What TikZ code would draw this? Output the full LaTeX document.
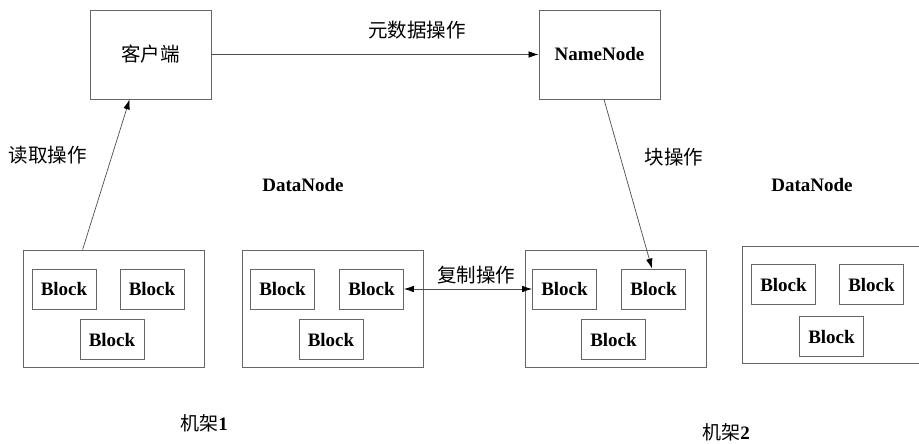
\documentclass[tikz,border=0pt]{standalone}
\usepackage{fontspec}
\setmainfont{Liberation Serif}
\newfontfamily\cjk{Noto Sans CJK SC}
\usetikzlibrary{arrows.meta,calc}
\begin{document}
\begin{tikzpicture}[x=1pt,y=-1pt,
  lat/.style={font=\fontsize{19}{22}\selectfont\bfseries},
  zh/.style={font=\fontsize{19.5}{22}\selectfont\cjk},
  mainbox/.style={draw=black!60,line width=0.8pt,minimum width=121pt,minimum height=89pt,inner sep=0pt},
  rackbox/.style={draw=black!60,line width=0.8pt,minimum width=181pt,minimum height=117pt,inner sep=0pt},
  blockbox/.style={draw=black!60,line width=0.8pt,minimum width=64pt,minimum height=40pt,inner sep=0pt,font=\fontsize{19}{22}\selectfont\bfseries},
  conn/.style={draw=black!70,line width=0.7pt},
  tip/.style={-{Latex[length=10pt,width=6.5pt,color=black]}}
]
\useasboundingbox (0,0) rectangle (919,444);
\begin{scope}
\clip (0,0) rectangle (919,444);
% main nodes
\node[mainbox,zh] (client) at (150.5,54.5) {客户端};
\node[mainbox,lat] (nn) at (599.5,54.5) {NameNode};
% rack boxes
\node[rackbox] (r1) at (113.5,308.5) {};
\node[rackbox] (r2) at (333,308.5) {};
\node[rackbox] (r3) at (615.5,308.5) {};
\node[rackbox] (r4) at (833,304.5) {};
% blocks
\node[blockbox] (b1) at (64,289) {Block};
\node[blockbox] (b2) at (152,289) {Block};
\node[blockbox] (b3) at (112,339.5) {Block};
\node[blockbox] (b4) at (282.5,289) {Block};
\node[blockbox] (b5) at (371.5,289) {Block};
\node[blockbox] (b6) at (331,339.5) {Block};
\node[blockbox] (b7) at (564.5,289) {Block};
\node[blockbox] (b8) at (653.5,289) {Block};
\node[blockbox] (b9) at (613.5,339.5) {Block};
\node[blockbox] (b10) at (783.5,284.5) {Block};
\node[blockbox] (b11) at (871.5,284.5) {Block};
\node[blockbox] (b12) at (831.5,336.5) {Block};
% labels
\node[zh] (lmeta) at (417,30) {元数据操作};
\node[zh] (lread) at (48,155) {读取操作};
\node[zh] (lblk) at (674,157) {块操作};
\node[lat] (ldn1) at (303,185) {DataNode};
\node[lat] (ldn2) at (812,185) {DataNode};
\node[zh] (lrep) at (476,275) {复制操作};
\node[lat] (lrack1) at (204,423) {{\cjk\mdseries 机架}1};
\node[lat] (lrack2) at (726,432) {{\cjk\mdseries 机架}2};
% connectors
\draw[conn,tip] ($(r1.north west)+(60,0)$) -- ($(client.south west)+(40,0)$);
\draw[conn,tip] (client.east) -- (nn.west);
\draw[conn,tip] ($(nn.south)+(4.5,0)$) -- ($(b8.north)+(-1.5,0)$);
\draw[conn,{Latex[length=10pt,width=6.5pt,color=black]}-{Latex[length=10pt,width=6.5pt,color=black]}] (b5.east) -- (b7.west);
\end{scope}
\end{tikzpicture}
\end{document}
